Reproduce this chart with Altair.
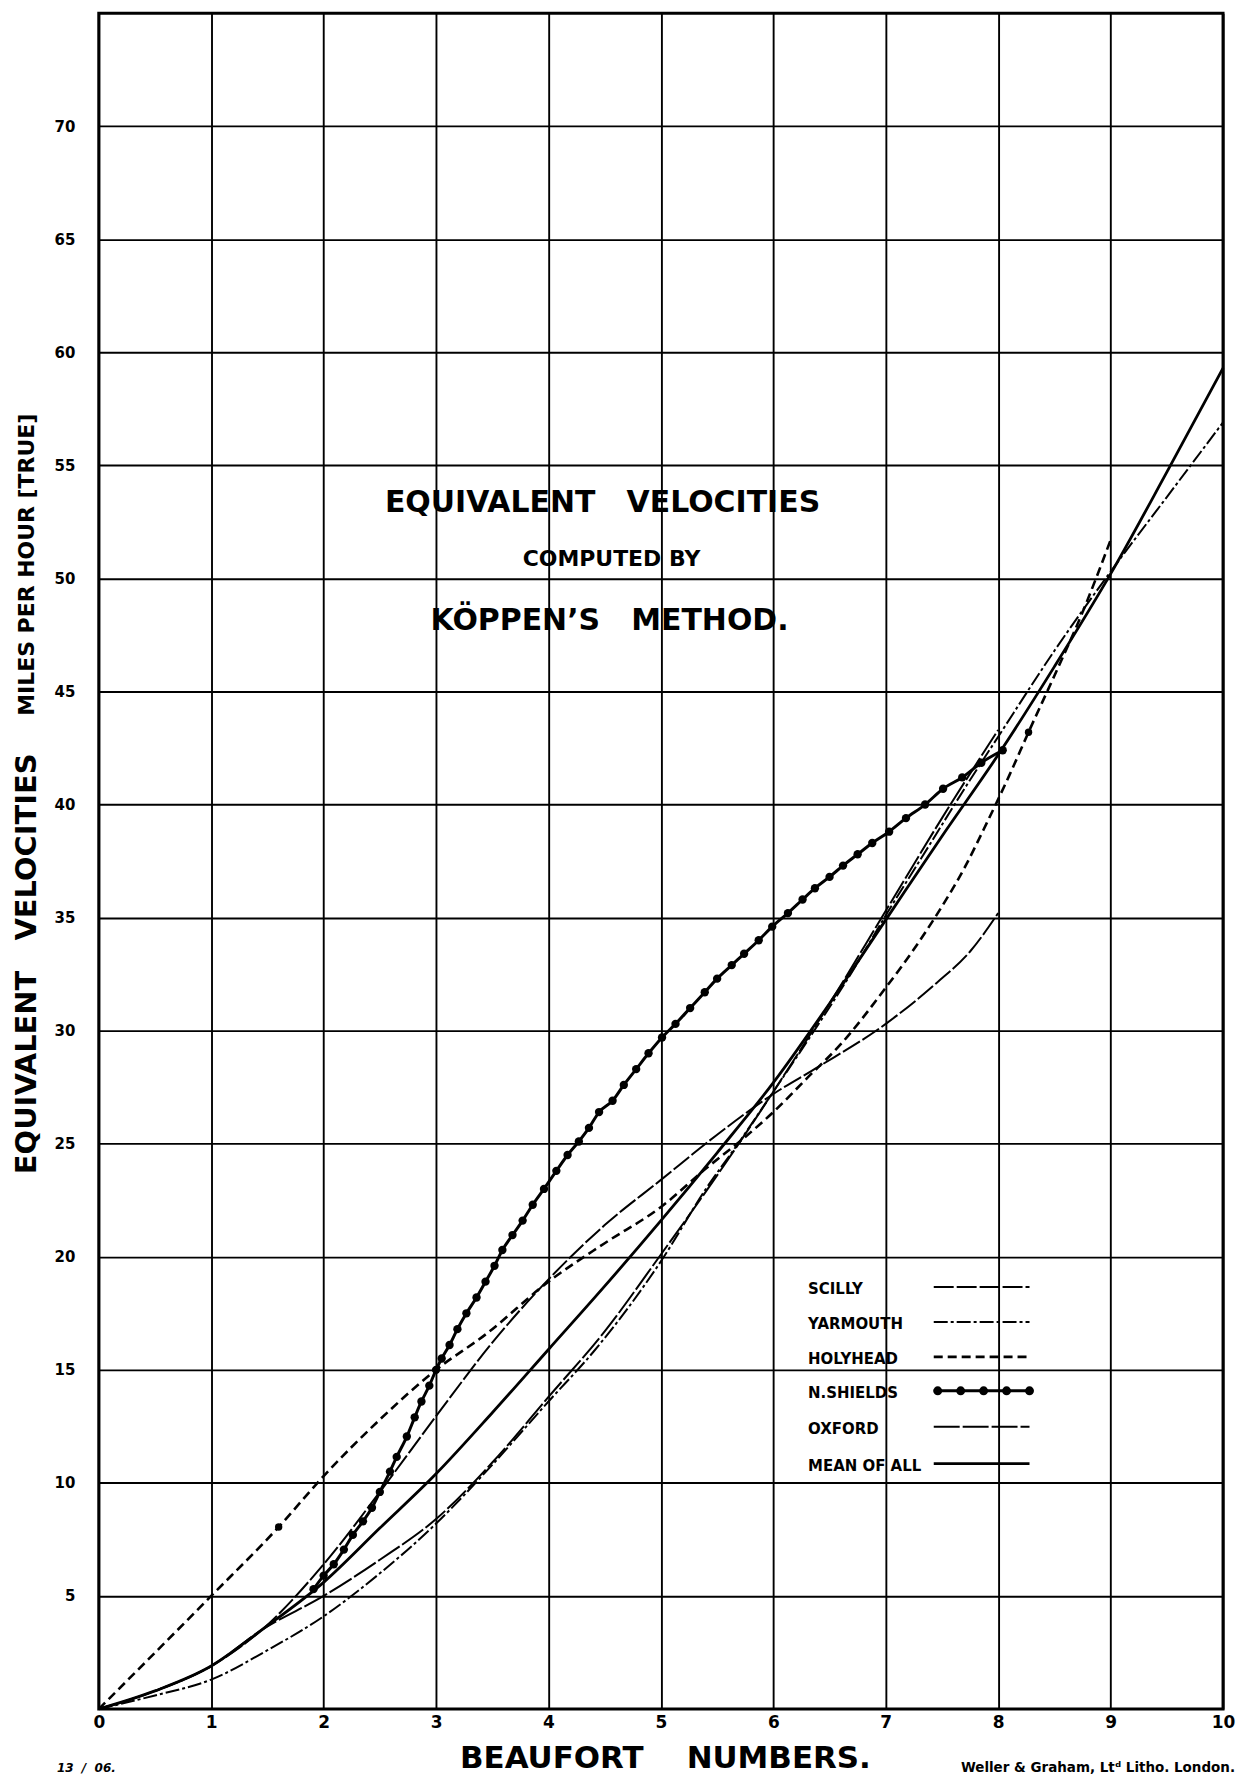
import altair as alt
import pandas as pd

# ---------------- data ----------------
series_names = ["SCILLY", "YARMOUTH", "HOLYHEAD", "N.SHIELDS", "OXFORD", "MEAN OF ALL"]
x_ticks = [0, 1, 2, 3, 4, 5, 6, 7, 8, 9, 10]
y_ticks = [5, 10, 15, 20, 25, 30, 35, 40, 45, 50, 55, 60, 65, 70]

scilly_x = [0, 0.5, 1, 1.45, 2, 2.5, 3, 3.5, 4, 4.5, 5, 5.5, 6, 6.4, 7, 7.45, 7.75, 8]
scilly_y = [0, 0.8, 1.9, 3.5, 6.4, 9.6, 12.95, 16.2, 19.0, 21.4, 23.4, 25.4, 27.2, 28.4, 30.3, 32.1, 33.5, 35.2]

yarmouth_x = [0, 0.5, 1, 1.5, 2, 2.5, 3, 3.5, 4, 4.4, 5, 5.4, 5.7, 6, 6.35, 6.7, 7, 7.4, 7.7, 8, 8.5, 9, 9.5, 10]
yarmouth_y = [0, 0.6, 1.3, 2.6, 4.1, 6.0, 8.2, 10.8, 13.6, 15.8, 19.8, 23.0, 25.1, 27.3, 29.9, 32.6, 35.1, 38.3, 40.7, 43.0, 46.8, 50.3, 53.6, 56.9]

holyhead_x = [0, 1, 1.6, 2, 2.5, 3, 3.45, 4, 4.5, 5, 5.4, 5.75, 6, 6.3, 6.6, 7, 7.25, 7.45, 7.7, 7.9, 8.1, 8.27, 8.5, 8.75, 9]
holyhead_y = [0, 5.0, 8.05, 10.3, 12.8, 15.0, 16.6, 18.9, 20.6, 22.2, 23.9, 25.3, 26.4, 27.9, 29.4, 31.9, 33.6, 35.1, 37.2, 39.2, 41.3, 43.2, 45.7, 48.5, 51.7]
holyhead_mark_x = [1.6, 8.27]
holyhead_mark_y = [8.05, 43.2]

shields_x = [1.91, 2.0, 2.09, 2.18, 2.26, 2.35, 2.43, 2.5, 2.59, 2.65, 2.74, 2.81, 2.87, 2.94, 3.0,
             3.05, 3.12, 3.19, 3.27, 3.36, 3.44, 3.52, 3.59, 3.68, 3.77, 3.86, 3.96, 4.07, 4.17, 4.27,
             4.36, 4.45, 4.57, 4.67, 4.78, 4.89, 5.01, 5.13, 5.26, 5.39, 5.5, 5.63, 5.74, 5.87, 5.99,
             6.13, 6.26, 6.37, 6.5, 6.62, 6.75, 6.88, 7.03, 7.18, 7.35, 7.51, 7.68, 7.85, 8.04]
shields_y = [5.3, 5.9, 6.4, 7.05, 7.7, 8.3, 8.9, 9.6, 10.5, 11.15, 12.05, 12.9, 13.6, 14.3, 15.0,
             15.5, 16.1, 16.8, 17.5, 18.2, 18.9, 19.6, 20.3, 20.96, 21.6, 22.3, 23.0, 23.8, 24.5, 25.1,
             25.7, 26.4, 26.9, 27.6, 28.3, 29.0, 29.7, 30.3, 31.0, 31.7, 32.3, 32.9, 33.4, 34.0, 34.6,
             35.2, 35.8, 36.3, 36.8, 37.3, 37.8, 38.3, 38.8, 39.4, 40.0, 40.7, 41.2, 41.85, 42.4]

oxford_x = [0, 0.5, 1, 1.45, 2, 2.5, 3, 3.5, 4, 4.5, 5, 5.5, 6, 6.5, 7, 7.5, 8]
oxford_y = [0, 0.8, 1.9, 3.5, 5.0, 6.6, 8.4, 10.9, 13.8, 16.7, 20.1, 23.6, 27.3, 31.2, 35.3, 39.4, 43.3]

mean_x = [0, 0.5, 1, 1.45, 2, 2.5, 3, 3.5, 4, 4.5, 5, 5.5, 6, 6.5, 7, 7.5, 8, 8.5, 9, 9.5, 10]
mean_y = [0, 0.8, 1.9, 3.5, 5.6, 8.0, 10.4, 13.1, 15.9, 18.7, 21.6, 24.6, 27.7, 31.2, 34.9, 38.6, 42.2, 46.1, 50.2, 54.7, 59.3]

NB = "\u00a0"
title_lines = ["EQUIVALENT" + NB * 3 + "VELOCITIES", "COMPUTED BY", "KÖPPEN’S" + NB * 3 + "METHOD."]
x_title = "BEAUFORT" + NB * 4 + "NUMBERS."
y_title_main = "EQUIVALENT" + NB * 3 + "VELOCITIES"
y_title_sub = "MILES PER HOUR [TRUE]"
foot_left = "13" + NB * 2 + "/" + NB * 2 + "06."
foot_right = "Weller & Graham, Ltᵈ Litho. London."

# ---------------- layout / style ----------------
W, H = 1127, 1700
FONT = "DejaVu Sans"
INK = "black"

xs = alt.Scale(domain=[0, 10], nice=False, zero=False)
ys = alt.Scale(domain=[0, 75], nice=False, zero=False)

x_axis = alt.Axis(values=x_ticks, grid=True, gridColor=INK, gridWidth=1.9, gridOpacity=1,
                  domain=False, ticks=False, labelFont=FONT, labelFontWeight="bold",
                  labelFontSize=17, labelColor=INK, labelPadding=6, labelFlush=False,
                  labelOverlap=False, title=None)
y_axis = alt.Axis(values=y_ticks, grid=True, gridColor=INK, gridWidth=1.9, gridOpacity=1,
                  domain=False, ticks=False, labelFont=FONT, labelFontWeight="bold",
                  labelFontSize=15, labelColor=INK, labelPadding=24, labelFlush=False,
                  labelOverlap=False, title=None)

X = alt.X("x:Q", scale=xs, axis=x_axis)
Y = alt.Y("y:Q", scale=ys, axis=y_axis)


def curve(xv, yv, width, dash=None):
    df = pd.DataFrame({"x": xv, "y": yv})
    kw = dict(color=INK, strokeWidth=width, interpolate="monotone", strokeCap="butt")
    if dash:
        kw["strokeDash"] = dash
    return alt.Chart(df).mark_line(**kw).encode(x=X, y=Y)


styles = {
    "SCILLY": dict(width=2.0, dash=[20, 3]),
    "YARMOUTH": dict(width=2.0, dash=[14, 3, 3, 3]),
    "HOLYHEAD": dict(width=2.6, dash=[9, 5]),
    "N.SHIELDS": dict(width=3.0, dash=None),
    "OXFORD": dict(width=2.0, dash=[26, 3]),
    "MEAN OF ALL": dict(width=2.8, dash=None),
}

layers = [
    curve(scilly_x, scilly_y, **styles["SCILLY"]),
    curve(yarmouth_x, yarmouth_y, **styles["YARMOUTH"]),
    curve(oxford_x, oxford_y, **styles["OXFORD"]),
    curve(holyhead_x, holyhead_y, **styles["HOLYHEAD"]),
    curve(mean_x, mean_y, **styles["MEAN OF ALL"]),
    curve(shields_x, shields_y, **styles["N.SHIELDS"]),
    alt.Chart(pd.DataFrame({"x": shields_x, "y": shields_y})).mark_circle(
        color=INK, opacity=1, size=70).encode(x=X, y=Y),
    alt.Chart(pd.DataFrame({"x": holyhead_mark_x, "y": holyhead_mark_y})).mark_circle(
        color=INK, opacity=1, size=55).encode(x=X, y=Y),
]


def label(text, x, y, size, weight="bold", align="center", angle=None, style=None):
    kw = dict(font=FONT, fontSize=size, fontWeight=weight, color=INK, align=align,
              baseline="middle")
    if angle is not None:
        kw["angle"] = angle
    if style:
        kw["fontStyle"] = style
    return alt.Chart(pd.DataFrame({"t": [text]})).mark_text(**kw).encode(
        text="t:N", x=alt.value(x), y=alt.value(y))


# title block inside the plot
layers += [
    label(title_lines[0], 505, 491, 30),
    label(title_lines[1], 514, 547, 22),
    label(title_lines[2], 512, 609, 30),
]

# axis titles and footnotes
layers += [
    label(x_title, 568, 1750, 31),
    label(y_title_main, -72, 953, 29, angle=270),
    label(y_title_sub, -72, 553, 22, angle=270),
    label(foot_left, -42, 1759, 12, style="italic", align="left"),
    label(foot_right, 1139, 1759, 13.5, align="right"),
]

# hand-drawn style legend: name on the left, line sample on the right
leg_rows = [1279, 1314, 1349, 1383, 1419, 1456]
leg_text_x = 711
leg_x1, leg_x2 = 837, 933
for name, ry in zip(series_names, leg_rows):
    layers.append(label(name, leg_text_x, ry, 15, align="left"))
    st = styles[name]
    rk = dict(color=INK, strokeWidth=st["width"], strokeCap="butt")
    if st["dash"]:
        rk["strokeDash"] = st["dash"]
    layers.append(alt.Chart(pd.DataFrame({"t": [name]})).mark_rule(**rk).encode(
        x=alt.value(leg_x1), x2=alt.value(leg_x2), y=alt.value(ry - 2)))
    if name == "N.SHIELDS":
        n = 5
        for i in range(n):
            px = leg_x1 + 4 + i * (leg_x2 - leg_x1 - 4) / (n - 1)
            layers.append(alt.Chart(pd.DataFrame({"t": [name]})).mark_circle(
                color=INK, opacity=1, size=80).encode(x=alt.value(px), y=alt.value(ry - 2)))

chart = alt.layer(*layers).properties(
    width=W, height=H,
    autosize=alt.AutoSizeParams(type="none"),
    padding={"left": 91, "top": 3, "right": 16, "bottom": 64},
    background="white",
).configure_view(stroke=INK, strokeWidth=3)

chart.save("out.html", embed_options={"renderer": "svg", "actions": False})
